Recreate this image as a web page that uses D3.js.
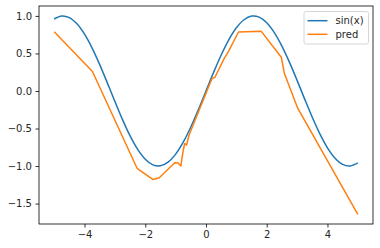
<!DOCTYPE html>
<html>
<head>
<meta charset="utf-8">
<script src="https://cdn.jsdelivr.net/npm/d3@7"></script>
<style>
  body { margin: 0; background: #fff; }
  svg { display: block; font-family: "DejaVu Sans", sans-serif; }
</style>
</head>
<body>
<svg class="chart"></svg>
<script>
// sampled sin(x) values
var sinX = [-5, -4.75, -4.5, -4.25, -4, -3.75, -3.5, -3.25, -3, -2.75, -2.5, -2.25, -2, -1.75, -1.5, -1.25, -1, -0.75, -0.5, -0.25,
  0, 0.25, 0.5, 0.75, 1, 1.25, 1.5, 1.75, 2, 2.25, 2.5, 2.75, 3, 3.25, 3.5, 3.75, 4, 4.25, 4.5, 4.75, 5];
var sinY = [0.9589, 0.9993, 0.9775, 0.8950, 0.7568, 0.5716, 0.3508, 0.1082, -0.1411, -0.3817, -0.5985, -0.7781, -0.9093, -0.9840,
  -0.9975, -0.9490, -0.8415, -0.6816, -0.4794, -0.2474, 0, 0.2474, 0.4794, 0.6816, 0.8415, 0.9490, 0.9975, 0.9840, 0.9093,
  0.7781, 0.5985, 0.3817, 0.1411, -0.1082, -0.3508, -0.5716, -0.7568, -0.8950, -0.9775, -0.9993, -0.9589];

// prediction (piecewise linear)
var predX = [-5, -3.74, -2.27, -1.74, -1.54, -1.03, -0.92, -0.83, -0.75, -0.70, -0.64, -0.56, 0.2, 0.29, 0.61, 0.72, 1.07, 1.82, 2.48, 2.58, 3.02, 5.0];
var predY = [0.79, 0.26, -1.03, -1.18, -1.155, -0.955, -0.96, -1.0, -0.79, -0.70, -0.72, -0.59, 0.17, 0.18, 0.44, 0.51, 0.786, 0.794, 0.45, 0.237, -0.23, -1.645];

var xTicks = [-4, -2, 0, 2, 4];
var yTicks = [-1.5, -1.0, -0.5, 0.0, 0.5, 1.0];
var seriesNames = ["sin(x)", "pred"];
var seriesColors = ["#1f77b4", "#ff7f0e"];

var W = 380, H = 248;
var box = {left: 39, top: 6, right: 373, bottom: 224};

var svg = d3.select(".chart").attr("width", W).attr("height", H);

var x = d3.scaleLinear().domain([-5.5, 5.5]).range([box.left, box.right]);
var y = d3.scaleLinear().domain([-1.772, 1.132]).range([box.bottom, box.top]);

var line = d3.line().x(function(d) { return x(d[0]); }).y(function(d) { return y(d[1]); });

var sinData = sinX.map(function(v, i) { return [v, sinY[i]]; });
var predData = predX.map(function(v, i) { return [v, predY[i]]; });

var plot = svg.append("g").attr("class", "plot");
plot.append("path").datum(sinData)
  .attr("d", line.curve(d3.curveCatmullRom.alpha(0.5)))
  .attr("fill", "none").attr("stroke", seriesColors[0]).attr("stroke-width", 1.5);
plot.append("path").datum(predData)
  .attr("d", line.curve(d3.curveLinear))
  .attr("fill", "none").attr("stroke", seriesColors[1]).attr("stroke-width", 1.5)
  .attr("stroke-linejoin", "round");

// axes
var fmtY = d3.format(".1f");
var xAxis = svg.append("g").attr("transform", "translate(0," + box.bottom + ")")
  .call(d3.axisBottom(x).tickValues(xTicks).tickFormat(d3.format("d")).tickSize(3.5).tickPadding(3.5).tickSizeOuter(0));
var yAxis = svg.append("g").attr("transform", "translate(" + box.left + ",0)")
  .call(d3.axisLeft(y).tickValues(yTicks).tickFormat(fmtY).tickSize(3.5).tickPadding(3.5).tickSizeOuter(0));
[xAxis, yAxis].forEach(function(a) {
  a.select(".domain").remove();
  a.selectAll(".tick line").attr("stroke", "#000").attr("stroke-width", 0.8);
  a.selectAll(".tick text").attr("fill", "#262626").attr("font-size", 10)
    .attr("font-family", "DejaVu Sans, sans-serif");
});

// frame
svg.append("rect")
  .attr("x", box.left).attr("y", box.top)
  .attr("width", box.right - box.left).attr("height", box.bottom - box.top)
  .attr("fill", "none").attr("stroke", "#000").attr("stroke-width", 0.8);

// legend
var legend = svg.append("g").attr("class", "legend").attr("transform", "translate(304,11.5)");
legend.append("rect").attr("width", 64.5).attr("height", 32.5).attr("rx", 2)
  .attr("fill", "#fff").attr("fill-opacity", 0.8).attr("stroke", "#cccccc").attr("stroke-width", 0.8);
var items = legend.selectAll(".item").data(seriesNames).enter().append("g")
  .attr("class", "item")
  .attr("transform", function(d, i) { return "translate(0," + (9.2 + i * 13.6) + ")"; });
items.append("line").attr("x1", 3.5).attr("x2", 23.5)
  .attr("stroke", function(d, i) { return seriesColors[i]; }).attr("stroke-width", 1.5);
items.append("text").attr("x", 31.5).attr("y", 3.6)
  .attr("font-size", 10).attr("fill", "#262626")
  .text(function(d) { return d; });
</script>
</body>
</html>
